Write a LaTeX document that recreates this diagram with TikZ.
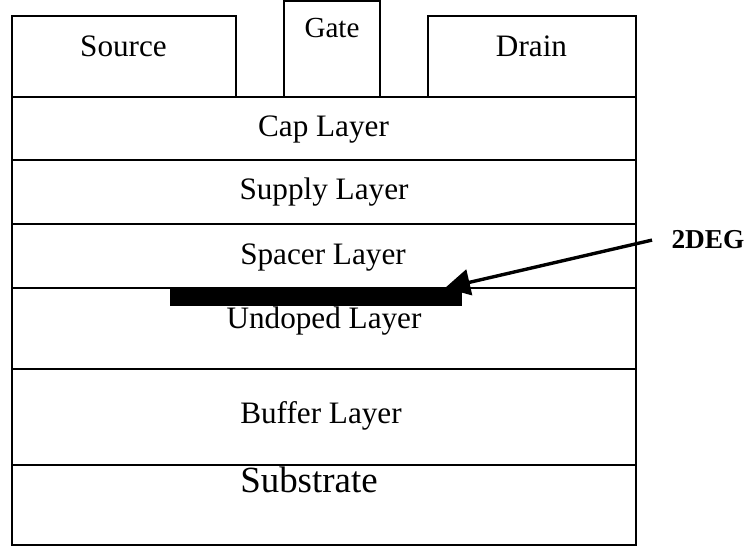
\documentclass[tikz,border=0pt]{standalone}
\usepackage{fontspec}
\setmainfont{Liberation Serif}
\usetikzlibrary{arrows.meta,positioning}
\newcommand{\pxu}{0.3846pt}

\begin{document}
\begin{tikzpicture}[
    x=0.3846pt,y=-0.3846pt,
    layer/.style={draw,line width=0.75pt,anchor=north west,inner sep=0pt,outer sep=0pt,
      minimum width=624*\pxu},
    lbl/.style={anchor=base,inner sep=0pt,font=\fontsize{12}{14}\selectfont},
    arrow/.style={-{Triangle[length=9.6pt,width=10pt]},line width=1.3pt}
  ]
    \useasboundingbox (0,0) rectangle (756,548);
    % contacts
    \node[layer,minimum width=224*\pxu,minimum height=81*\pxu] (source) at (12,16) {};
    \node[layer,minimum width=96*\pxu,minimum height=96*\pxu] (gate) at (284,1) {};
    \node[layer,minimum width=208*\pxu,minimum height=81*\pxu] (drain) at (428,16) {};
    % epitaxial stack
    \node[layer,minimum height=63*\pxu] (cap) at (12,97) {};
    \node[layer,minimum height=64*\pxu] (supply) at (12,160) {};
    \node[layer,minimum height=64*\pxu] (spacer) at (12,224) {};
    \node[layer,minimum height=81*\pxu] (undoped) at (12,288) {};
    \node[layer,minimum height=96*\pxu] (buffer) at (12,369) {};
    \node[layer,minimum height=80*\pxu] (substrate) at (12,465) {};
    % electron gas sheet
    \node[layer,fill=black,minimum width=290*\pxu,minimum height=17*\pxu] (sheet) at (171,288) {};
    \node[lbl] (sourcetxt) at (123.5,57) {Source};
    \node[lbl,font=\fontsize{11.2}{13}\selectfont] (gatetxt) at (332,38) {Gate};
    \node[lbl] (draintxt) at (531.5,57) {Drain};
    \node[lbl] (captxt) at (323.5,137) {Cap Layer};
    \node[lbl] (supplytxt) at (324,200) {Supply Layer};
    \node[lbl] (spacertxt) at (323,265) {Spacer Layer};
    \node[lbl] (undopedtxt) at (324,329) {Undoped Layer};
    \node[lbl] (buffertxt) at (321,424) {Buffer Layer};
    \node[lbl,font=\fontsize{14.2}{16}\selectfont] (substratetxt) at (309,492) {Substrate};
    \node[lbl,anchor=base west,font=\fontsize{10.5}{12}\bfseries] (deg) at (671,249) {2DEG};
    \draw[arrow] ([xshift=-7.3pt]deg.west) -- ([xshift=-16*\pxu]sheet.north east);
  \end{tikzpicture}
\end{document}
